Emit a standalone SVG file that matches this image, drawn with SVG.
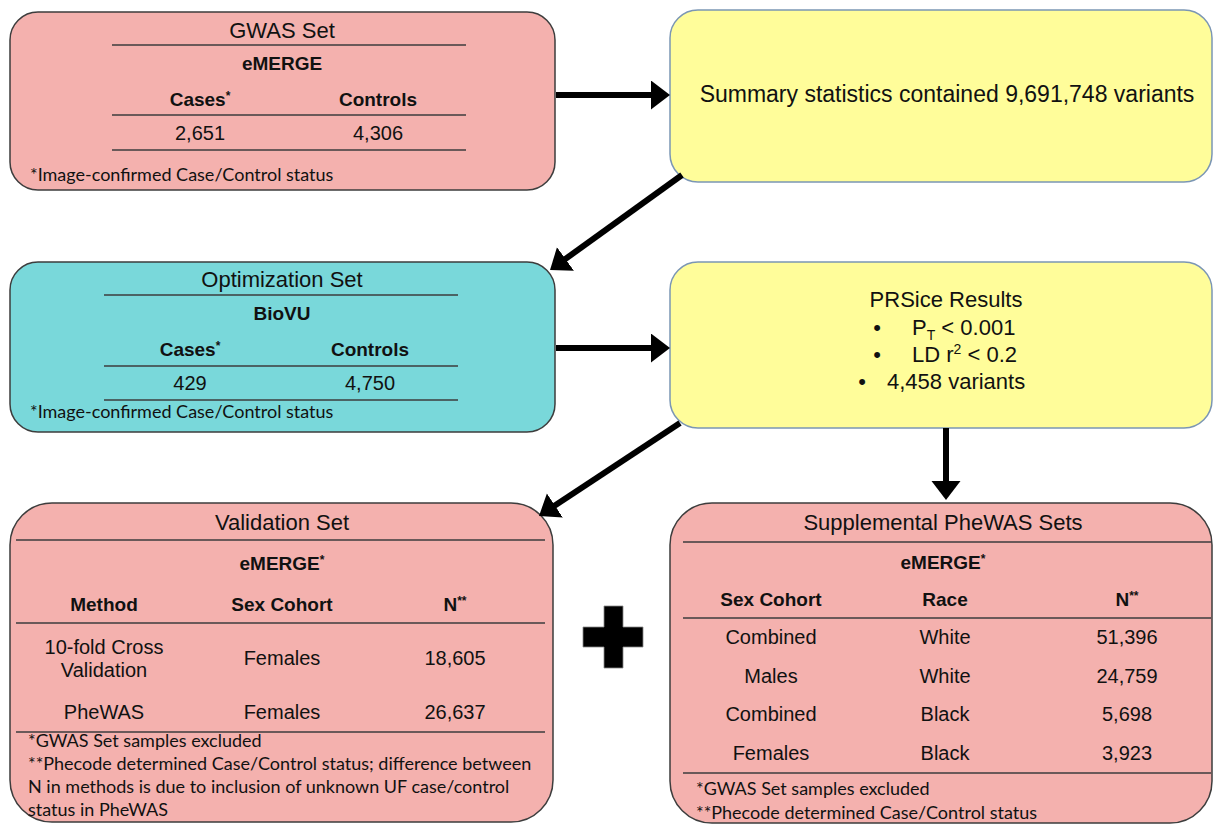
<svg xmlns="http://www.w3.org/2000/svg" width="1215" height="826" viewBox="0 0 1215 826">
<style>
.pink{fill:#F4B1AE;stroke:#3d3d3d;stroke-width:1.5}
.teal{fill:#79D8DA;stroke:#3d3d3d;stroke-width:1.5}
.yel{fill:#FFFD9A;stroke:#7B96B4;stroke-width:1.5}
.rule{stroke:#3d3d3d;stroke-width:1.6}
text{font-family:"Liberation Sans",Arial,sans-serif;fill:#111;text-anchor:middle}
.t{font-size:22px}
.h{font-size:19px;font-weight:bold}
.v{font-size:20px}
.y{font-size:23px}
.p{font-size:22px}
.fn{font-family:Lato,"Liberation Sans",sans-serif;font-size:18px;text-anchor:start}
.sup{font-size:12px}
.conn line{stroke:#000;stroke-width:6}
</style>
<defs>
<marker id="ah" markerUnits="userSpaceOnUse" markerWidth="20" markerHeight="30" refX="14" refY="14.5" orient="auto">
<path d="M0,0 L19,14.5 L0,29 z" fill="#000"/>
</marker>
</defs>
<rect width="1215" height="826" fill="#fff"/>

<g id="gwas">
<rect class="pink" x="10" y="12" width="545" height="178" rx="28"/>
<text class="t" x="282" y="38">GWAS Set</text>
<line class="rule" x1="112" y1="45" x2="466" y2="45"/>
<text class="h" x="282" y="70">eMERGE</text>
<text class="h" x="200" y="106">Cases<tspan class="sup" dy="-6">*</tspan></text>
<text class="h" x="378" y="106">Controls</text>
<line class="rule" x1="112" y1="115" x2="466" y2="115"/>
<text class="v" x="200" y="140">2,651</text>
<text class="v" x="378" y="140">4,306</text>
<line class="rule" x1="112" y1="150" x2="466" y2="150"/>
<text class="fn" x="30" y="181">*Image-confirmed Case/Control status</text>
</g>

<g id="summary">
<rect class="yel" x="670" y="10" width="542" height="172" rx="28"/>
<text class="y" x="947" y="102">Summary statistics contained 9,691,748 variants</text>
</g>

<g id="optimization">
<rect class="teal" x="10" y="262" width="545" height="170" rx="28"/>
<text class="t" x="282" y="287">Optimization Set</text>
<line class="rule" x1="104" y1="295" x2="458" y2="295"/>
<text class="h" x="282" y="320">BioVU</text>
<text class="h" x="190" y="356">Cases<tspan class="sup" dy="-6">*</tspan></text>
<text class="h" x="370" y="356">Controls</text>
<line class="rule" x1="104" y1="366" x2="458" y2="366"/>
<text class="v" x="190" y="390">429</text>
<text class="v" x="370" y="390">4,750</text>
<line class="rule" x1="104" y1="400" x2="458" y2="400"/>
<text class="fn" x="30" y="418">*Image-confirmed Case/Control status</text>
</g>

<g id="prsice">
<rect class="yel" x="670" y="262" width="542" height="166" rx="28"/>
<text class="p" x="946" y="307">PRSice Results</text>
<text class="p" x="877" y="335">•</text>
<text class="p" x="912" y="335" style="text-anchor:start">P<tspan font-size="14" dy="5">T</tspan><tspan dy="-5"> &lt; 0.001</tspan></text>
<text class="p" x="877" y="362">•</text>
<text class="p" x="912" y="362" style="text-anchor:start">LD r<tspan font-size="14" dy="-8">2</tspan><tspan dy="8"> &lt; 0.2</tspan></text>
<text class="p" x="862" y="389">•</text>
<text class="p" x="887" y="389" style="text-anchor:start">4,458 variants</text>
</g>

<g id="validation">
<rect class="pink" x="10" y="503" width="543" height="319" rx="42"/>
<text class="t" x="282" y="530">Validation Set</text>
<line class="rule" x1="16" y1="540" x2="545" y2="540"/>
<text class="h" x="282" y="570">eMERGE<tspan class="sup" dy="-6">*</tspan></text>
<text class="h" x="104" y="611">Method</text>
<text class="h" x="282" y="611">Sex Cohort</text>
<text class="h" x="455" y="611">N<tspan class="sup" dy="-6">**</tspan></text>
<line class="rule" x1="16" y1="623" x2="545" y2="623"/>
<text class="v" x="104" y="654">10-fold Cross</text>
<text class="v" x="104" y="677">Validation</text>
<text class="v" x="282" y="665">Females</text>
<text class="v" x="455" y="665">18,605</text>
<text class="v" x="104" y="719">PheWAS</text>
<text class="v" x="282" y="719">Females</text>
<text class="v" x="455" y="719">26,637</text>
<line class="rule" x1="16" y1="732" x2="545" y2="732"/>
<text class="fn" x="28" y="747">*GWAS Set samples excluded</text>
<text class="fn" x="28" y="770">**Phecode determined Case/Control status; difference between</text>
<text class="fn" x="28" y="793">N in methods is due to inclusion of unknown UF case/control</text>
<text class="fn" x="28" y="816">status in PheWAS</text>
</g>

<g id="plus">
<polygon points="604,606 623,606 623,627 643,627 643,647 623,647 623,668 604,668 604,647 583,647 583,627 604,627" fill="#000" stroke="#888" stroke-width="0.8"/>
</g>

<g id="supplemental">
<rect class="pink" x="670" y="503" width="542" height="320" rx="42"/>
<text class="t" x="943" y="530">Supplemental PheWAS Sets</text>
<line class="rule" x1="683" y1="542" x2="1211" y2="542"/>
<text class="h" x="943" y="569">eMERGE<tspan class="sup" dy="-6">*</tspan></text>
<text class="h" x="771" y="606">Sex Cohort</text>
<text class="h" x="945" y="606">Race</text>
<text class="h" x="1127" y="606">N<tspan class="sup" dy="-6">**</tspan></text>
<line class="rule" x1="683" y1="618" x2="1211" y2="618"/>
<text class="v" x="771" y="644">Combined</text>
<text class="v" x="945" y="644">White</text>
<text class="v" x="1127" y="644">51,396</text>
<text class="v" x="771" y="683">Males</text>
<text class="v" x="945" y="683">White</text>
<text class="v" x="1127" y="683">24,759</text>
<text class="v" x="771" y="721">Combined</text>
<text class="v" x="945" y="721">Black</text>
<text class="v" x="1127" y="721">5,698</text>
<text class="v" x="771" y="760">Females</text>
<text class="v" x="945" y="760">Black</text>
<text class="v" x="1127" y="760">3,923</text>
<line class="rule" x1="683" y1="773" x2="1211" y2="773"/>
<text class="fn" x="696" y="795">*GWAS Set samples excluded</text>
<text class="fn" x="696" y="819">**Phecode determined Case/Control status</text>
</g>

<g id="connectors" class="conn">
<line x1="556" y1="95" x2="665" y2="95" marker-end="url(#ah)"/>
<line x1="682" y1="175" x2="554.1" y2="267.1" marker-end="url(#ah)"/>
<line x1="556" y1="348" x2="665" y2="348" marker-end="url(#ah)"/>
<line x1="680" y1="423" x2="543.2" y2="513.2" marker-end="url(#ah)"/>
<line x1="946" y1="428" x2="946" y2="495" marker-end="url(#ah)"/>
</g>
</svg>
